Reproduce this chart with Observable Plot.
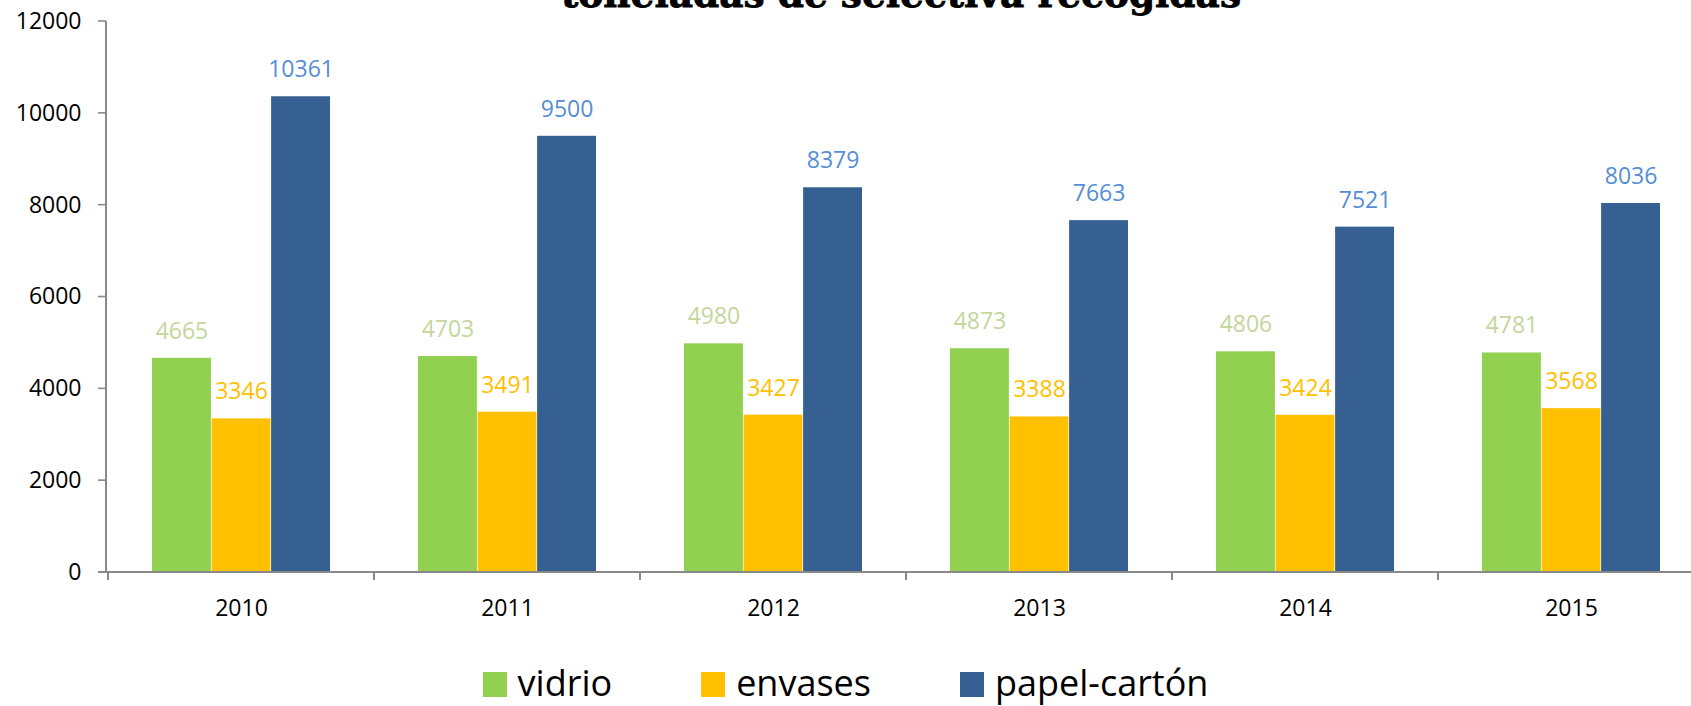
<!DOCTYPE html>
<html>
<head>
<meta charset="utf-8">
<script src="https://cdn.jsdelivr.net/npm/d3@7"></script>
<script src="https://cdn.jsdelivr.net/npm/@observablehq/plot@0.6"></script>
<style>
  html, body { margin: 0; padding: 0; background: #fff; overflow: hidden; width: 1691px; height: 706px; }
  #wrap { position: relative; width: 1691px; height: 706px; }
  #title { position: absolute; left: 901px; top: -24px; transform: translateX(-50%); white-space: nowrap;
           font-family: "DejaVu Serif", serif; font-weight: 900; font-size: 37.5px; line-height: 37.5px; color: #000;
           -webkit-text-stroke: 0.8px #000; }
  #legend { position: absolute; left: 0; width: 1691px; top: 657px; height: 52px; display: flex; justify-content: center; align-items: center;
            font-family: "Open Sans", sans-serif; font-size: 36px; line-height: 52px; color: #000; }
  .item { display: flex; align-items: center; margin: 0 44.5px; }
  .sw { width: 24px; height: 25px; margin-right: 11px; margin-top: 3px; }
  #chart svg { display: block; }
</style>
</head>
<body>
<div id="wrap">
  <div id="chart"></div>
  <div id="title">toneladas de selectiva recogidas</div>
  <div id="legend"></div>
</div>
<script>
const years = ["2010", "2011", "2012", "2013", "2014", "2015"];
const series = ["vidrio", "envases", "papel-cartón"];
const vidrio = [4665, 4703, 4980, 4873, 4806, 4781];
const envases = [3346, 3491, 3427, 3388, 3424, 3568];
const papel = [10361, 9500, 8379, 7663, 7521, 8036];
const barColors = ["#92d050", "#ffc000", "#376092"];
const labelColors = ["#c3d69b", "#ffc000", "#558ed5"];
const yTicks = [0, 2000, 4000, 6000, 8000, 10000, 12000];

const valuesBySeries = [vidrio, envases, papel];
const data = [];
years.forEach((yr, i) => series.forEach((s, j) => data.push({year: yr, series: s, value: valuesBySeries[j][i]})));

const W = 1691, H = 645, mL = 106, mR = -15, mT = 21, mB = 73;
const step = (W - mR - mL) / years.length;   // category band width
const groupFrac = 0.67;                        // part of the band covered by the 3 bars
const barW = step * groupFrac / series.length;
const inset = (step - barW) / 2;
const axisColor = "#898989";

function axesLines(index, scales, values, dims) {
  const {x, y} = scales;
  const g = d3.create("svg:g").attr("stroke", axisColor).attr("fill", "none");
  const left = dims.marginLeft;
  const y0 = y(0);
  g.append("line").attr("x1", left).attr("x2", left).attr("y1", y(12000)).attr("y2", y0).attr("stroke-width", 2);
  for (const t of yTicks) {
    g.append("line").attr("x1", left - 8).attr("x2", left).attr("y1", y(t)).attr("y2", y(t)).attr("stroke-width", 1.6);
  }
  g.append("line").attr("x1", left - 8).attr("x2", dims.width + 20).attr("y1", y0).attr("y2", y0).attr("stroke-width", 2);
  const bounds = x.domain().map(d => x(d));
  bounds.push(bounds[bounds.length - 1] + x.bandwidth());
  for (const b of bounds) {
    g.append("line").attr("x1", b).attr("x2", b).attr("y1", y0).attr("y2", y0 + 8).attr("stroke-width", 2);
  }
  return g.node();
}

const chart = Plot.plot({
  width: W,
  height: H,
  marginLeft: mL,
  marginRight: mR,
  marginTop: mT,
  marginBottom: mB,
  style: {fontFamily: "'Open Sans', sans-serif", fontSize: "23px", color: "#000", background: "#fff"},
  x: {domain: years, padding: 0, label: null, tickSize: 0, tickPadding: 27},
  y: {domain: [0, 12000], ticks: yTicks, tickSize: 0, tickPadding: 25, label: null, tickFormat: d => String(d)},
  marks: [
    ...series.map((s, j) => Plot.barY(data.filter(d => d.series === s), {
      x: "year", y: "value", fill: barColors[j], insetLeft: inset, insetRight: inset, dx: (j - 1) * barW
    })),
    ...series.map((s, j) => Plot.text(data.filter(d => d.series === s), {
      x: "year", y: "value", text: d => String(d.value), dy: -27, dx: (j - 1) * barW, fill: labelColors[j], fontSize: 23
    })),
    axesLines
  ]
});
document.getElementById("chart").appendChild(chart);

const legend = document.getElementById("legend");
series.forEach((s, j) => {
  const item = document.createElement("div");
  item.className = "item";
  const sw = document.createElement("div");
  sw.className = "sw";
  sw.style.background = barColors[j];
  const lab = document.createElement("span");
  lab.textContent = s;
  item.appendChild(sw);
  item.appendChild(lab);
  legend.appendChild(item);
});
</script>
</body>
</html>
